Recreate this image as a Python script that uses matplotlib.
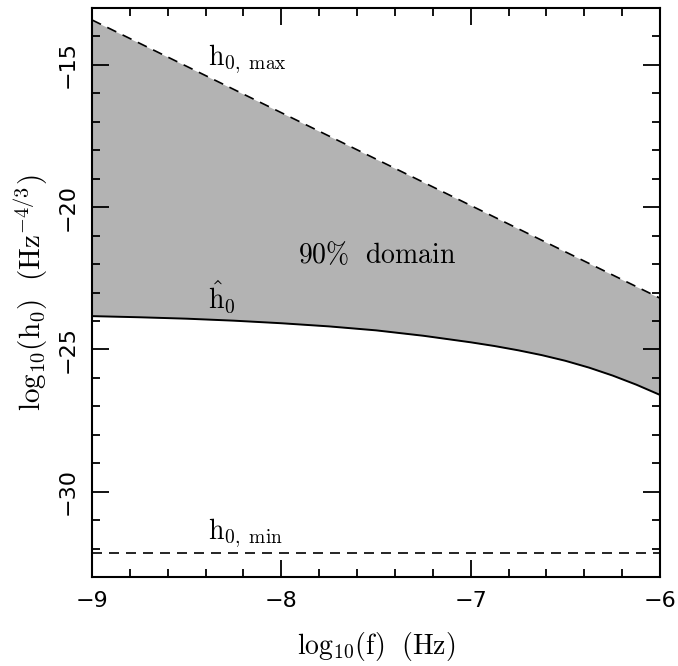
import matplotlib
matplotlib.use('Agg')
import matplotlib.pyplot as plt
from matplotlib.ticker import MultipleLocator

plt.rcParams['mathtext.fontset'] = 'cm'
plt.rcParams['font.family'] = ['DejaVu Sans']

# log10(f) grid and curves
logf = [-9.0, -8.75, -8.5, -8.25, -8.0, -7.75, -7.5, -7.25, -7.0, -6.875,
        -6.75, -6.625, -6.5, -6.375, -6.25, -6.125, -6.0]
h_hat = [-23.83, -23.87, -23.92, -23.99, -24.08, -24.19, -24.33, -24.52, -24.75,
         -24.88, -25.03, -25.20, -25.40, -25.64, -25.92, -26.24, -26.60]
maxf = [-9.0, -6.0]
h_max = [-13.42, -23.2]
h_min_level = -32.15

xticks = [-9, -8, -7, -6]
yticks = [-30, -25, -20, -15]

fig = plt.figure(figsize=(6.78, 6.66), dpi=100)
ax = fig.add_axes([0.1357, 0.1336, 0.8378, 0.8544])

# upper boundary on the same grid as h_hat (straight line)
upper = [h_max[0] + (h_max[1] - h_max[0]) * (x - maxf[0]) / (maxf[1] - maxf[0]) for x in logf]
ax.fill_between(logf, h_hat, upper, color='#b3b3b3', lw=0)
ax.plot(maxf, h_max, color='black', lw=1.2, dashes=(6, 4.2))
ax.plot(logf, h_hat, color='black', lw=1.4)
ax.axhline(h_min_level, color='black', lw=1.2, dashes=(6, 4.2))

ax.set_xlim(-9, -6)
ax.set_ylim(-33, -13)
ax.set_xticks(xticks)
ax.set_yticks(yticks)
ax.xaxis.set_minor_locator(MultipleLocator(0.2))
ax.yaxis.set_minor_locator(MultipleLocator(1))
ax.tick_params(which='both', direction='in', top=True, right=True, width=1.3)
ax.tick_params(which='major', length=12, labelsize=16, pad=10)
ax.tick_params(which='minor', length=6)
ax.set_xticklabels(['\u22129', '\u22128', '\u22127', '\u22126'])
ax.set_yticklabels(['\u221230', '\u221225', '\u221220', '\u221215'], rotation=90, va='center')
for s in ax.spines.values():
    s.set_linewidth(1.5)

ax.set_xlabel(r'$\mathrm{log_{10}(f)\ \ (Hz)}$', fontsize=20, labelpad=14)
ax.set_ylabel(r'$\mathrm{log_{10}(h_0)\ \ (Hz^{-4/3})}$', fontsize=21, labelpad=6)

ax.text(-8.39, -15.0, r'$\mathrm{h_{0,\ max}}$', fontsize=20, ha='left', va='baseline')
ax.text(-7.91, -21.96, r'$\mathrm{90\%\ \ domain}$', fontsize=20, ha='left', va='baseline')
ax.text(-8.39, -23.6, r'$\hat{\mathrm{h}}_\mathrm{0}$', fontsize=20, ha='left', va='baseline')
ax.text(-8.39, -31.66, r'$\mathrm{h_{0,\ min}}$', fontsize=20, ha='left', va='baseline')

fig.savefig('out.png', dpi=100)
